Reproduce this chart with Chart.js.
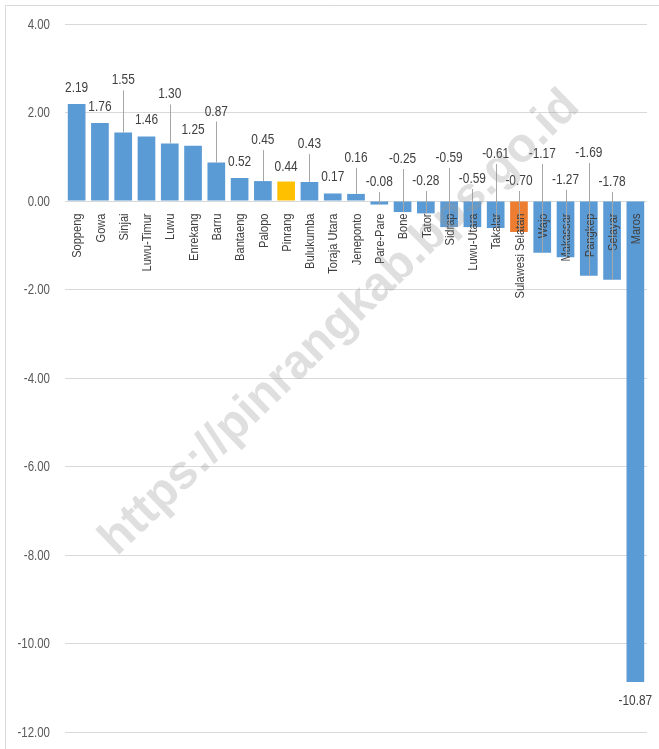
<!DOCTYPE html>
<html>
<head>
<meta charset="utf-8">
<script src="https://cdn.jsdelivr.net/npm/chart.js@4.4.1/dist/chart.umd.min.js"></script>
<style>
  html, body { margin: 0; padding: 0; background: #fff; }
  #wrap { width: 659px; height: 749px; position: relative; }
</style>
</head>
<body>
<div id="wrap"><canvas id="c" width="659" height="749"></canvas></div>
<script>
// ---- data ----
const categories = ["Soppeng","Gowa","Sinjai","Luwu-Timur","Luwu","Enrekang","Barru","Bantaeng","Palopo","Pinrang","Bulukumba","Toraja Utara","Jeneponto","Pare-Pare","Bone","Tator","Sidrap","Luwu-Utara","Takalar","Sulawesi Selatan","Wajo","Makassar","Pangkep","Selayar","Maros"];
const values = [2.19,1.76,1.55,1.46,1.30,1.25,0.87,0.52,0.45,0.44,0.43,0.17,0.16,-0.08,-0.25,-0.28,-0.59,-0.59,-0.61,-0.70,-1.17,-1.27,-1.69,-1.78,-10.87];
const yTicks = [4,2,0,-2,-4,-6,-8,-10,-12];

// ---- styling / label placement (px, not data) ----
const BLUE = '#5B9BD5', GOLD = '#FFC000', ORANGE = '#ED7D31';
const barColors = categories.map(c => c === 'Pinrang' ? GOLD : (c === 'Sulawesi Selatan' ? ORANGE : BLUE));
// label rise in px above bar top (positive bars) or above zero line (negative bars); 'below' = under bar end
const labelRise = [17,17,53,17,50,17,52,17,42,16,39,17,37,20,43,21,44,23,48,21,48,22,49,20,'below'];
const FONT = "'Liberation Sans', Arial, sans-serif";
const NARROW = 0.82;   // horizontal compression to mimic a condensed face
const TXT = '#404040';

function narrowText(ctx, text, x, y, align, font, color) {
  ctx.save();
  ctx.translate(x, y);
  ctx.scale(NARROW, 1);
  ctx.font = font;
  ctx.fillStyle = color;
  ctx.textAlign = align;
  ctx.textBaseline = 'middle';
  ctx.fillText(text, 0, 0);
  ctx.restore();
}

const labelPlugin = {
  id: 'customLabels',
  beforeDraw(chart) {
    const ctx = chart.ctx;
    ctx.save();
    ctx.strokeStyle = '#D9D9D9';
    ctx.lineWidth = 1;
    ctx.beginPath();
    ctx.moveTo(5.5, 749); ctx.lineTo(5.5, 5.5); ctx.lineTo(659, 5.5);
    ctx.stroke();
    ctx.restore();
  },
  afterDraw(chart) {
    const ctx = chart.ctx;
    const yScale = chart.scales.y;
    // y-axis tick labels from the library's scale
    yScale.ticks.forEach(t => {
      narrowText(ctx, Number(t.value).toFixed(2), 50, yScale.getPixelForValue(t.value) + 1, 'right', '14px ' + FONT, '#595959');
    });
    const meta = chart.getDatasetMeta(0);
    const zeroY = yScale.getPixelForValue(0);
    meta.data.forEach((bar, i) => {
      const v = values[i];
      const x = bar.x;
      // category label (rotated)
      ctx.save();
      ctx.translate(x + 1, zeroY + 12.5);
      ctx.rotate(-Math.PI / 2);
      ctx.scale(NARROW, 1);
      ctx.font = '13.5px ' + FONT;
      ctx.fillStyle = TXT;
      ctx.textAlign = 'right';
      ctx.textBaseline = 'middle';
      ctx.fillText(categories[i], 0, 0);
      ctx.restore();
      // value label
      let cy;
      const rise = labelRise[i];
      if (rise === 'below') {
        cy = bar.y + 18;
      } else {
        const ref = v >= 0 ? bar.y : zeroY;
        cy = ref - rise;
        if (v < 0 || rise > 25) {
          ctx.save();
          ctx.strokeStyle = '#A6A6A6';
          ctx.lineWidth = 1;
          ctx.beginPath();
          ctx.moveTo(Math.round(x) + 0.5, cy + 11);
          ctx.lineTo(Math.round(x) + 0.5, bar.y);
          ctx.stroke();
          ctx.restore();
        }
      }
      narrowText(ctx, v.toFixed(2), x, cy + 1, 'center', '14.5px ' + FONT, TXT);
    });
    // watermark
    ctx.save();
    ctx.translate(340, 323);
    ctx.rotate(-44 * Math.PI / 180);
    ctx.font = "bold 48px 'Liberation Sans', Arial, sans-serif";
    ctx.fillStyle = 'rgba(150,150,150,0.3)';
    ctx.textAlign = 'center';
    ctx.textBaseline = 'middle';
    ctx.fillText('https://pinrangkab.bps.go.id', 0, 0);
    ctx.restore();
  }
};

new Chart(document.getElementById('c'), {
  type: 'bar',
  data: {
    labels: categories,
    datasets: [{
      data: values,
      backgroundColor: barColors,
      borderWidth: 0,
      barPercentage: 0.76,
      categoryPercentage: 1.0
    }]
  },
  options: {
    responsive: false,
    animation: false,
    events: [],
    layout: { padding: { top: 24, bottom: 17, right: 12, left: 0 } },
    plugins: { legend: { display: false }, tooltip: { enabled: false } },
    scales: {
      x: { display: false },
      y: {
        min: -12, max: 4,
        afterFit(scale) { scale.width = 65; },
        afterBuildTicks(scale) { scale.ticks = yTicks.map(v => ({ value: v })); },
        ticks: { display: false },
        grid: { color: '#D9D9D9', lineWidth: 1, drawTicks: false },
        border: { display: false }
      }
    }
  },
  plugins: [labelPlugin]
});
</script>
</body>
</html>
